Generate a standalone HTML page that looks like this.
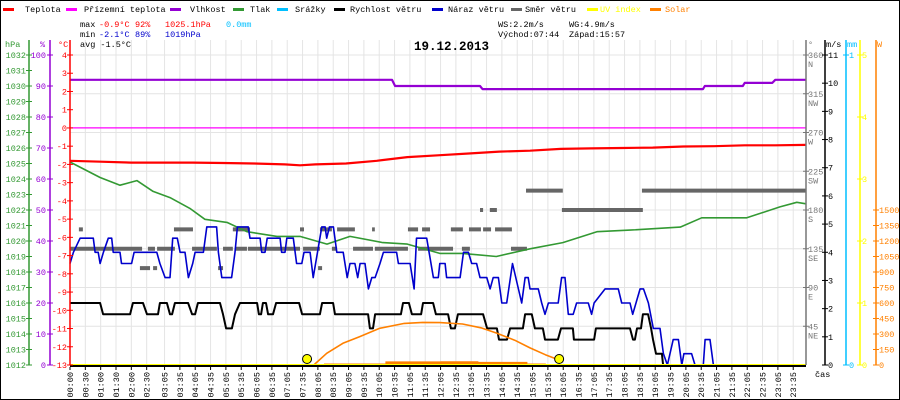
<!DOCTYPE html>
<html><head><meta charset="utf-8"><style>
html,body{margin:0;padding:0;background:#fff}
svg{display:block}
text{font-family:"Liberation Mono",monospace;font-size:8.5px}
</style></head><body>
<svg id="chart" width="900" height="400" viewBox="0 0 900 400" xmlns="http://www.w3.org/2000/svg">
<rect x="0.5" y="0.5" width="899" height="399" fill="#fff" stroke="#000"/>
<g id="grid"></g>
<g id="legend">
<rect x="3" y="8" width="11" height="3" fill="#ff0000"/><text x="25" y="12">Teplota</text>
<rect x="66" y="8" width="11" height="3" fill="#ff00ff"/><text x="84" y="12">Přízemní teplota</text>
<rect x="170" y="8" width="11" height="3" fill="#9400d3"/><text x="190" y="12">Vlhkost</text>
<rect x="233" y="8" width="11" height="3" fill="#339933"/><text x="250" y="12">Tlak</text>
<rect x="277" y="8" width="11" height="3" fill="#00bfff"/><text x="295" y="12">Srážky</text>
<rect x="334" y="8" width="11" height="3" fill="#000"/><text x="350" y="12">Rychlost větru</text>
<rect x="432" y="8" width="11" height="3" fill="#0000cc"/><text x="448" y="12">Náraz větru</text>
<rect x="511" y="8" width="11" height="3" fill="#666"/><text x="525" y="12">Směr větru</text>
<rect x="587" y="8" width="11" height="3" fill="#ffff00"/><text x="600" y="12" fill="#ffff00">UV index</text>
<rect x="650" y="8" width="11" height="3" fill="#ff8000"/><text x="665" y="12" fill="#ff8000">Solar</text>
</g>
<g id="stats">
<text x="80" y="27">max</text>
<text x="99" y="27" fill="#ff0000">-0.9°C</text>
<text x="135" y="27" fill="#ff0000">92%</text>
<text x="165" y="27" fill="#ff0000">1025.1hPa</text>
<text x="226" y="27" fill="#00bfff">0.0mm</text>
<text x="80" y="37">min</text>
<text x="99" y="37" fill="#0000cc">-2.1°C</text>
<text x="135" y="37" fill="#0000cc">89%</text>
<text x="165" y="37" fill="#0000cc">1019hPa</text>
<text x="80" y="47">avg -1.5°C</text>
<text x="498" y="27">WS:2.2m/s</text>
<text x="569" y="27">WG:4.9m/s</text>
<text x="498" y="37">Východ:07:44</text>
<text x="569" y="37">Západ:15:57</text>
<text x="414" y="50" style="font-size:12.5px;font-weight:bold">19.12.2013</text>
</g>
<g id="series"></g>
<g id="axes"></g>
</svg>
<script>
// ---- data ----
const timeLabels = ["00:00","00:30","01:00","01:30","02:00","02:30","03:05","03:35","04:05","04:35","05:05","05:35","06:05","06:35","07:05","07:35","08:05","08:35","09:05","09:35","10:05","10:35","11:05","11:35","12:05","12:35","13:05","13:35","14:05","14:35","15:05","15:35","16:05","16:35","17:05","17:35","18:05","18:35","19:05","19:35","20:05","20:35","21:05","21:35","22:05","22:35","23:05","23:35"];
const tempTimes = [0,1,2,3,4,5,6,7,7.5,8,9,10,11,12,13,14,15,16,17,18,19,20,21,22,23,24];
const tempValues = [-1.8,-1.85,-1.9,-1.9,-1.9,-1.92,-1.95,-2.0,-2.05,-2.0,-1.95,-1.8,-1.6,-1.5,-1.4,-1.3,-1.25,-1.15,-1.12,-1.1,-1.08,-1.02,-1.0,-0.95,-0.95,-0.93];
const feelTimes = [0,24];
const feelValues = [0,0];
const humTimes = [0,10.5,10.6,13.37,13.45,20.64,20.7,21.94,22.0,22.9,23.0,24];
const humValues = [92,92,90,90,89,89,90,90,91,91,92,92];
const pressTimes = [0,0.98,1.63,2.18,2.71,3.26,3.91,4.4,5.12,5.77,6.75,7.5,8.38,9.13,10.2,11.0,12.06,12.8,13.9,15.0,16.07,17.18,18.26,19.9,20.6,21.5,22.07,23.15,23.7,24];
const pressValues = [1025.1,1024.1,1023.6,1023.9,1023.2,1022.8,1022.1,1021.4,1021.2,1020.6,1020.3,1020.3,1019.8,1020.3,1019.9,1019.8,1019.2,1019.2,1019.0,1019.5,1019.9,1020.6,1020.7,1020.9,1021.5,1021.5,1021.5,1022.2,1022.5,1022.4];
const speedTimes = [0,0.98,1.08,1.96,2.05,2.38,2.51,2.87,2.93,3.16,3.26,3.33,3.42,3.85,3.98,4.08,4.17,4.89,4.99,5.09,5.28,5.38,5.54,6.10,6.16,6.23,6.29,6.39,6.46,6.62,6.72,7.47,7.57,8.15,8.22,8.58,8.64,9.72,9.78,9.88,9.95,10.79,10.86,11.05,11.15,11.45,11.51,11.84,11.93,12.33,12.42,12.55,12.65,13.47,13.6,13.92,13.99,14.25,14.35,14.77,14.84,15.06,15.16,15.42,15.49,15.91,16.01,16.4,16.43,17.09,17.15,18.26,18.36,18.42,18.49,18.62,18.68,18.85,18.95,19.01,19.11,19.3,19.34,24];
const speedValues = [2.2,2.2,1.8,1.8,2.2,2.2,1.8,1.8,2.2,2.2,1.8,1.8,2.2,2.2,1.8,1.8,2.2,2.2,1.8,1.3,1.3,1.8,2.2,2.2,1.8,1.8,2.2,2.2,1.8,1.8,2.2,2.2,1.8,1.8,2.2,2.2,1.8,1.8,1.3,1.3,1.8,1.8,2.2,2.2,1.8,1.8,2.2,2.2,1.8,1.8,1.3,1.3,1.8,1.8,1.3,1.3,0.9,0.9,1.3,1.3,1.8,1.8,1.3,1.3,0.9,0.9,1.3,1.3,0.9,0.9,1.3,1.3,0.9,0.9,1.3,1.3,1.8,1.8,1.3,0.9,0.4,0.4,0,0];
const gustTimes = [0,0.11,0.33,0.76,0.82,0.92,0.98,1.09,1.25,1.36,1.41,1.63,1.68,2.01,2.09,2.83,2.93,3.1,3.26,3.35,3.5,3.59,3.75,3.86,4.0,4.08,4.35,4.46,4.78,4.84,4.95,5.27,5.38,5.46,5.81,5.87,6.2,6.25,6.36,6.43,6.85,6.9,7.01,7.07,7.28,7.39,7.56,7.63,7.83,7.93,8.21,8.32,8.37,8.46,8.59,8.7,8.91,9.04,9.13,9.29,9.38,9.46,9.62,9.73,9.84,9.95,10.11,10.22,10.65,10.71,11.09,11.22,11.3,11.63,11.85,12.01,12.06,12.23,12.28,12.72,12.83,12.99,13.1,13.26,13.37,13.59,13.7,13.8,13.97,14.08,14.24,14.43,14.73,14.84,14.94,15.0,15.27,15.38,15.49,15.6,15.92,16.03,16.14,16.25,16.41,16.52,16.9,17.01,17.09,17.45,17.88,17.99,18.26,18.35,18.59,18.7,18.86,19.02,19.24,19.35,19.48,19.67,19.84,19.95,20.02,20.27,20.38,20.65,20.71,20.87,20.98,21.1];
const gustValues = [3.6,4.0,4.5,4.5,4.0,4.0,3.6,4.0,4.5,4.5,4.0,4.0,3.6,3.6,4.0,4.0,3.6,3.1,3.1,4.5,4.5,4.0,4.0,3.1,3.6,4.0,4.0,4.9,4.9,4.0,3.1,3.1,4.0,4.9,4.9,4.5,4.5,4.0,4.0,4.5,4.5,4.0,4.0,4.5,4.5,3.6,3.6,4.0,4.0,3.1,4.9,4.9,4.5,4.9,4.9,4.0,4.0,3.1,3.6,3.6,3.1,3.6,3.6,2.7,3.1,3.1,3.6,4.0,4.0,3.6,3.6,2.7,4.5,4.5,3.1,3.1,3.6,3.6,3.1,3.1,4.0,4.0,3.6,3.6,3.1,3.1,2.7,3.1,3.1,2.2,2.2,3.6,2.2,3.1,3.1,2.7,2.7,2.2,1.8,2.2,2.2,3.1,3.1,1.8,1.8,2.2,2.2,1.8,2.2,2.7,2.7,2.2,2.2,1.8,2.7,2.7,2.2,1.3,1.3,0.4,0,0.9,0.9,0,0.4,0.4,0,0,0.9,0.9,0,0];
const dirStart = [0,0.1,2.54,2.84,3.98,4.99,5.38,5.8,7.6,8.54,9.23,9.94,11.35,12.78,14.38, 0.29,3.39,5.31,7.5,8.15,8.71,9.85,11.02,11.48,12.42,13.01,13.47,13.86, 2.28,2.71,4.83,8.09, 13.37,13.69,16.04, 14.87,18.65];
const dirEnd   = [0.1,2.35,2.77,3.42,4.79,5.31,5.77,7.5,8.15,8.71,9.88,11.02,12.49,13.04,14.9, 0.42,4.01,5.87,7.63,8.54,9.29,9.94,11.35,11.74,12.81,13.4,13.73,14.41, 2.61,2.84,4.99,8.22, 13.47,13.92,18.68, 16.07,24];
const dirValues = [135,135,135,135,135,135,135,135,135,135,135,135,135,135,135, 157.5,157.5,157.5,157.5,157.5,157.5,157.5,157.5,157.5,157.5,157.5,157.5,157.5, 112.5,112.5,112.5,112.5, 180,180,180, 202.5,202.5];
const solarTheoTimes = [7.95,8.37,8.9,9.44,10.1,10.9,11.5,12.06,12.8,13.4,13.9,14.5,15.0,15.5,15.95];
const solarTheoValues = [0,113,210,274,355,403,412,410,397,360,310,240,165,100,48];
const solarTimes = [8.3,10.3,10.3,12.1,12.1,13.3,13.3,14.9,14.9,15.5,15.55];
const solarValues = [10,10,30,30,32,32,25,25,10,10,0];
const sunTimes = [7.73,15.95];
const uvTimes = [0,24];
const uvValues = [0,0];

// ---- scales ----
const X0=70, X1=806, YB=365;
const xT = h => X0 + h*(X1-X0)/24;
const yC = t => 55 + (4-t)*310/17;
const yP = p => 55 + (1032-p)*15.5;
const yH = v => 55 + (100-v)*3.1;
const yS = v => YB - v*310/11;
const yD = d => YB - d*310/360;
const yW = w => YB - w*155/1500;
const yUV = u => YB - u*62;
const NS="http://www.w3.org/2000/svg";
function mk(parent, tag, attrs){const e=document.createElementNS(NS,tag);for(const k in attrs)e.setAttribute(k,attrs[k]);parent.appendChild(e);return e;}
const grid=document.getElementById('grid'), ser=document.getElementById('series'), ax=document.getElementById('axes');
function labelMin(s){const p=s.split(':');return (+p[0])*60+(+p[1]);}

// grid
for(let i=0;i<timeLabels.length;i++){
  const x=xT(labelMin(timeLabels[i])/60);
  const l=mk(grid,'line',{x1:x,y1:40,x2:x,y2:YB,stroke:'#e4e4e4','stroke-width':1});
  
  
}
for(let d=45; d<=360; d+=45){
  const y=yD(d);
  const l=mk(grid,'line',{x1:X0,y1:y,x2:X1,y2:y,stroke:'#e4e4e4','stroke-width':1});
  
  
}
const zl=mk(grid,'line',{x1:X0,y1:yC(0),x2:X1,y2:yC(0),stroke:'#888','stroke-width':1});



function path(times, vals, yf, color, w, name){
  let d='';
  for(let i=0;i<times.length;i++){d+=(i?'L':'M')+xT(times[i]).toFixed(1)+','+yf(vals[i]).toFixed(1);}
  const p=mk(ser,'path',{d:d,fill:'none',stroke:color,'stroke-width':w,'stroke-linejoin':'round'});
  
  
  return p;
}
// wind direction
for(let i=0;i<dirValues.length;i++){
  const r=mk(ser,'rect',{x:xT(dirStart[i]),y:yD(dirValues[i])-2,width:Math.max(2,xT(dirEnd[i])-xT(dirStart[i])),height:4,fill:'#666'});
  
  
}
path(humTimes,humValues,yH,'#9400d3',2.2,'humidity-line');
path(feelTimes,feelValues,yC,'#ff00ff',1.2,'apparent-temp-line');
path(pressTimes,pressValues,yP,'#339933',1.6,'pressure-line');
path(tempTimes,tempValues,yC,'#ff0000',2.2,'temperature-line');
path(gustTimes,gustValues,yS,'#0000cc',1.6,'wind-gust-line');
path(speedTimes,speedValues,yS,'#000',2,'wind-speed-line');
path(solarTheoTimes,solarTheoValues,yW,'#ff8000',1.6,'solar-theoretical-line');
// actual solar area
{
  let d='M'+xT(solarTimes[0])+','+YB;
  for(let i=0;i<solarTimes.length;i++) d+='L'+xT(solarTimes[i]).toFixed(1)+','+yW(solarValues[i]).toFixed(1);
  d+='L'+xT(solarTimes[solarTimes.length-1])+','+YB+'Z';
  const p=mk(ser,'path',{d:d,fill:'#ff8000',stroke:'#ff8000','stroke-width':1});
  
  
}
// axis base
const base=mk(ax,'line',{x1:X0,y1:YB+1,x2:X1,y2:YB+1,stroke:'#000','stroke-width':2});


path(uvTimes,uvValues,yUV,'#ffff00',2,'uv-index-line');
for(let i=0;i<sunTimes.length;i++){
  const c=mk(ser,'circle',{cx:xT(sunTimes[i]),cy:359,r:4.5,fill:'#ffff00',stroke:'#000','stroke-width':1});
  
  
}
// x labels
for(let i=0;i<timeLabels.length;i++){
  const x=xT(labelMin(timeLabels[i])/60);
  const t=mk(ax,'line',{x1:x,y1:YB+2,x2:x,y2:YB+5,stroke:'#000'});
  
  
  const tx=mk(ax,'text',{x:x+3,y:372,'text-anchor':'end',transform:'rotate(-90 '+(x+3)+' 372)'});
  tx.textContent=timeLabels[i];
  
  
}
const cas=mk(ax,'text',{x:815,y:377});cas.textContent='čas';



function vaxis(x, color, ticks, yf, labelX, anchor, title, titleX, name, extra){
  const l=mk(ax,'line',{x1:x,y1:40,x2:x,y2:YB,stroke:color,'stroke-width':1.5});
  
  
  for(const v of ticks){
    const y=yf(v);
    const tk=mk(ax,'line',{x1:x-3,y1:y,x2:x+3,y2:y,stroke:color});
    
    
    const t=mk(ax,'text',{x:labelX,y:y+3,'text-anchor':anchor,fill:color});
    t.textContent=v;
    
    
    if(extra&&extra[v]){
      const t2=mk(ax,'text',{x:labelX,y:y+12,fill:color});
      t2.textContent=extra[v];
      
      
    }
  }
  const tt=mk(ax,'text',{x:titleX,y:47,fill:color});
  tt.textContent=title;
  
  
}
const hpaTicks=[];for(let v=1012;v<=1032;v++)hpaTicks.push(v);
const pctTicks=[];for(let v=0;v<=100;v+=10)pctTicks.push(v);
const cTicks=[];for(let v=-13;v<=4;v++)cTicks.push(v);
const dirTicks=[45,90,135,180,225,270,315,360];
const dirNames={45:'NE',90:'E',135:'SE',180:'S',225:'SW',270:'W',315:'NW',360:'N'};
const msTicks=[];for(let v=0;v<=11;v++)msTicks.push(v);
const uvTicks=[0,1,2,3,4,5];
const wTicks=[];for(let v=0;v<=1500;v+=150)wTicks.push(v);
vaxis(29,'#339933',hpaTicks,yP,26,'end','hPa',5,'pressure');
vaxis(50,'#9400d3',pctTicks,yH,46,'end','%',40,'humidity');
vaxis(70,'#ff0000',cTicks,yC,67,'end','°C',58,'temperature');
vaxis(806,'#777',dirTicks,yD,808,'start','°',808,'direction',dirNames);
vaxis(825,'#000',msTicks,yS,828,'start','m/s',826,'wind-speed');
vaxis(846,'#00bfff',[0,1],v=>YB-v*310,849,'start','mm',847,'rain');
vaxis(860,'#ffff00',uvTicks,yUV,862,'start','',862,'uv');
vaxis(876,'#ff8000',wTicks,yW,879,'start','W',877,'solar');
</script>
</body></html>
